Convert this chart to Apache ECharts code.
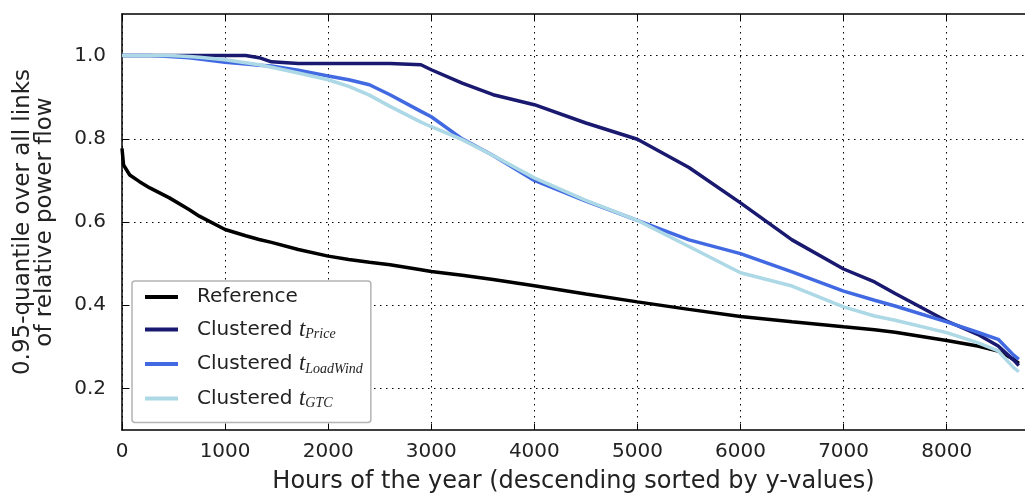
<!DOCTYPE html>
<html>
<head>
<meta charset="utf-8">
<script src="https://cdn.jsdelivr.net/npm/echarts@6/dist/echarts.min.js"></script>
<style>
  html, body { margin: 0; padding: 0; background: #fff; }
  #chart { width: 1025px; height: 499px; }
</style>
</head>
<body>
<div id="chart"></div>
<script>
// sorted hours (x) shared by all curves
const hours = [0, 15, 75, 170, 270, 460, 650, 750, 1000, 1200, 1330, 1450, 1710, 2000, 2200, 2400, 2600, 2900, 3000, 3300, 3600, 4000, 4500, 5000, 5500, 6000, 6500, 7000, 7300, 7500, 8000, 8300, 8500, 8650, 8700];

const referenceVals = [0.777, 0.737, 0.713, 0.697, 0.682, 0.658, 0.63, 0.614, 0.582, 0.567, 0.558, 0.551, 0.534, 0.518, 0.51, 0.503, 0.497, 0.485, 0.481, 0.472, 0.462, 0.447, 0.427, 0.408, 0.39, 0.373, 0.36, 0.348, 0.341, 0.335, 0.315, 0.302, 0.29, 0.27, 0.26];
const priceVals = [1.0, 1.0, 1.0, 1.0, 1.0, 1.0, 1.0, 1.0, 1.0, 1.0, 0.995, 0.985, 0.981, 0.981, 0.981, 0.981, 0.981, 0.978, 0.966, 0.934, 0.906, 0.882, 0.838, 0.799, 0.731, 0.646, 0.557, 0.487, 0.456, 0.428, 0.362, 0.33, 0.302, 0.268, 0.255];
const loadWindVals = [1.0, 1.0, 1.0, 1.0, 1.0, 0.998, 0.995, 0.992, 0.984, 0.98, 0.977, 0.975, 0.965, 0.951, 0.942, 0.93, 0.906, 0.866, 0.853, 0.8, 0.76, 0.70, 0.65, 0.604, 0.557, 0.524, 0.48, 0.434, 0.412, 0.398, 0.36, 0.335, 0.318, 0.28, 0.27];
const gtcVals = [1.0, 1.0, 1.0, 1.0, 1.0, 1.0, 0.998, 0.996, 0.99, 0.983, 0.978, 0.972, 0.958, 0.942, 0.926, 0.905, 0.878, 0.84, 0.829, 0.798, 0.76, 0.706, 0.652, 0.604, 0.541, 0.478, 0.446, 0.396, 0.374, 0.364, 0.334, 0.31, 0.29, 0.25, 0.24];

const xTicks = [0, 1000, 2000, 3000, 4000, 5000, 6000, 7000, 8000];
const yTicks = [0.2, 0.4, 0.6, 0.8, 1.0];

const pairs = (vals) => hours.map((h, i) => [h, vals[i]]);

const legendText = {
  "Reference": "{n|Reference}",
  "Clustered tPrice": "{n|Clustered }{t|t}{s|Price}",
  "Clustered tLoadWind": "{n|Clustered }{t|t}{s|LoadWind}",
  "Clustered tGTC": "{n|Clustered }{t|t}{s|GTC}"
};

const font = "DejaVu Sans";
const gridDots = { color: "#000", width: 1, type: [1.5, 4.5] };

const chart = echarts.init(document.getElementById("chart"));

const lineSeries = (name, vals, color) => ({
  name: name,
  type: "line",
  data: pairs(vals),
  showSymbol: false,
  color: color,
  lineStyle: { color: color, width: 3.5 },
  clip: true
});

let option = {
  animation: false,
  backgroundColor: "#fff",
  grid: { left: 122, top: 14, width: 916, height: 419 },
  legend: {
    orient: "vertical",
    left: 132,
    top: 281,
    icon: "rect",
    itemWidth: 33,
    itemHeight: 4,
    itemGap: 11,
    padding: [6, 8, 12, 13],
    backgroundColor: "#fff",
    borderColor: "#b4b4b4",
    borderWidth: 1.5,
    borderRadius: 3,
    formatter: (name) => legendText[name],
    textStyle: {
      rich: {
        n: { fontFamily: font, fontSize: 20, color: "#222", lineHeight: 24, padding: [0, 0, 0, 14] },
        t: { fontFamily: "Liberation Serif", fontStyle: "italic", fontSize: 23, color: "#222", lineHeight: 24 },
        s: { fontFamily: "Liberation Serif", fontStyle: "italic", fontSize: 14, color: "#222", lineHeight: 14, verticalAlign: "bottom" }
      }
    },
    data: ["Reference", "Clustered tPrice", "Clustered tLoadWind", "Clustered tGTC"]
  },
  xAxis: [
    {
      type: "value",
      min: 0,
      max: 8760,
      interval: 1000,
      name: "Hours of the year (descending sorted by y-values)",
      nameLocation: "middle",
      nameGap: 40,
      nameTextStyle: { fontFamily: font, fontSize: 24, color: "#222" },
      axisLine: { show: true, lineStyle: { color: "#000", width: 1.5 } },
      axisTick: { show: true, inside: true, length: 6, customValues: xTicks, lineStyle: { color: "#000" } },
      axisLabel: {
        fontFamily: font, fontSize: 20, color: "#222", margin: 12,
        customValues: xTicks,
        formatter: (v) => String(v)
      },
      splitLine: { show: true, lineStyle: gridDots }
    },
    {
      type: "value",
      position: "top",
      min: 0,
      max: 8760,
      interval: 1000,
      axisLine: { show: true, lineStyle: { color: "#000", width: 1.5 } },
      axisTick: { show: true, inside: true, length: 6, customValues: xTicks, lineStyle: { color: "#000" } },
      axisLabel: { show: false },
      splitLine: { show: false }
    }
  ],
  yAxis: {
    type: "value",
    min: 0.1,
    max: 1.1,
    name: "0.95-quantile over all links\nof relative power flow",
    nameLocation: "middle",
    nameRotate: 90,
    nameGap: 66,
    nameTextStyle: { fontFamily: font, fontSize: 23, color: "#222", lineHeight: 22 },
    axisLine: { show: true, lineStyle: { color: "#000", width: 1.5 } },
    axisTick: { show: true, inside: true, length: 6, customValues: yTicks, lineStyle: { color: "#000" } },
    axisLabel: {
      fontFamily: font, fontSize: 20, color: "#222", margin: 16,
      customValues: yTicks,
      formatter: (v) => v.toFixed(1)
    },
    splitLine: { show: true, lineStyle: gridDots }
  },
  series: [
    lineSeries("Reference", referenceVals, "#000000"),
    lineSeries("Clustered tPrice", priceVals, "#191970"),
    lineSeries("Clustered tLoadWind", loadWindVals, "#4169E1"),
    lineSeries("Clustered tGTC", gtcVals, "#ADD8E6")
  ]
};

option && chart.setOption(option);
</script>
</body>
</html>
